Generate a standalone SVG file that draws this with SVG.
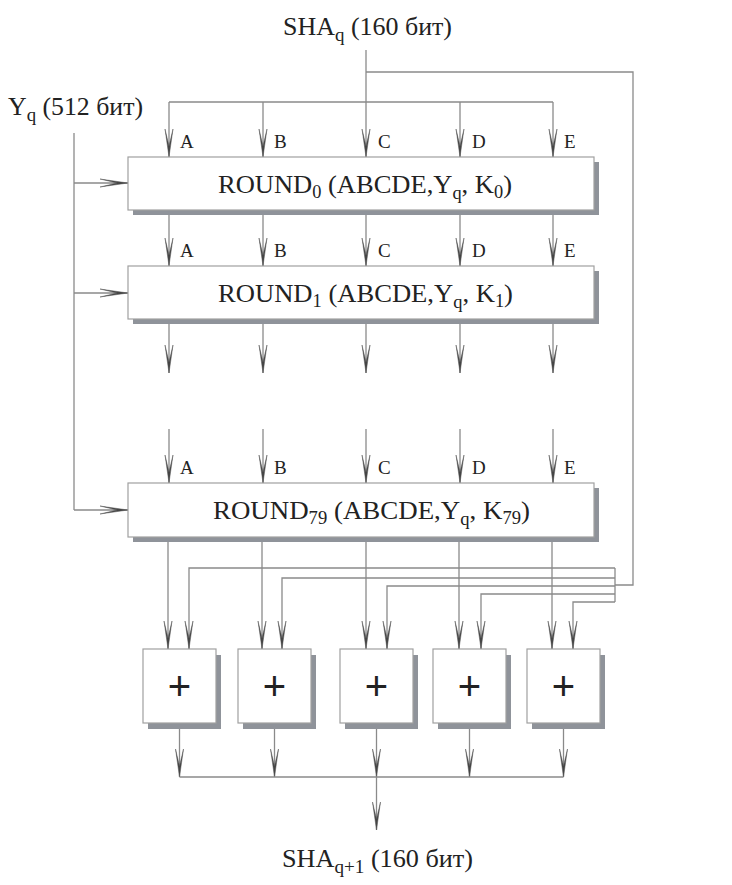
<svg xmlns="http://www.w3.org/2000/svg" width="732" height="885" viewBox="0 0 732 885">
<style>
.ln{fill:none;stroke:#8a8a8a;stroke-width:1.3}
.ar{marker-end:url(#arr)}
.box{fill:#fff;stroke:#a0a0a0;stroke-width:1.2}
.sh{fill:#8f939a}
.t{font-family:"Liberation Serif","Times New Roman",serif;fill:#222}
.big{font-size:26px}
.lbl{font-size:19px}
.plus{font-family:"Liberation Sans",Arial,sans-serif;font-size:40px;fill:#222;text-anchor:middle}
</style>
<defs>
<marker id="arr" markerUnits="userSpaceOnUse" viewBox="-30 -5 31 10" refX="0" refY="0" markerWidth="31" markerHeight="10" orient="auto">
<path d="M0,0 L-28,-4 L-11,0 L-28,4 Z" fill="#444" stroke="#555" stroke-width="0.5"/>
</marker>
</defs>
<rect width="732" height="885" fill="#fff"/>

<g id="connectors">
<path class="ln ar" d="M366,50 V157"/>
<path class="ln" d="M169,102 H553"/>
<path class="ln ar" d="M169,102 V157"/>
<path class="ln ar" d="M263,102 V157"/>
<path class="ln ar" d="M460,102 V157"/>
<path class="ln ar" d="M553,102 V157"/>
<path class="ln" d="M366,72 H633 V585 H615"/>
<path class="ln ar" d="M169,212 V266"/>
<path class="ln ar" d="M263,212 V266"/>
<path class="ln ar" d="M366,212 V266"/>
<path class="ln ar" d="M460,212 V266"/>
<path class="ln ar" d="M553,212 V266"/>
<path class="ln ar" d="M169,321 V373"/>
<path class="ln ar" d="M263,321 V373"/>
<path class="ln ar" d="M366,321 V373"/>
<path class="ln ar" d="M460,321 V373"/>
<path class="ln ar" d="M553,321 V373"/>
<path class="ln ar" d="M169,429 V483"/>
<path class="ln ar" d="M263,429 V483"/>
<path class="ln ar" d="M366,429 V483"/>
<path class="ln ar" d="M460,429 V483"/>
<path class="ln ar" d="M553,429 V483"/>
<path class="ln" d="M74,133 V510"/>
<path class="ln ar" d="M74,183 H128"/>
<path class="ln ar" d="M74,293 H128"/>
<path class="ln ar" d="M74,510 H128"/>
<path class="ln ar" d="M168,540 V649"/>
<path class="ln ar" d="M262,540 V649"/>
<path class="ln ar" d="M366,540 V649"/>
<path class="ln ar" d="M459,540 V649"/>
<path class="ln ar" d="M552,540 V649"/>
<path class="ln" d="M615,568 V602"/>
<path class="ln ar" d="M615,568 H189 V649"/>
<path class="ln ar" d="M615,578 H282 V649"/>
<path class="ln ar" d="M615,586 H387 V649"/>
<path class="ln ar" d="M615,594 H481 V649"/>
<path class="ln ar" d="M615,602 H573 V649"/>
<path class="ln ar" d="M179.5,724 V777"/>
<path class="ln ar" d="M274.5,724 V777"/>
<path class="ln ar" d="M376.5,724 V777"/>
<path class="ln ar" d="M469.5,724 V777"/>
<path class="ln ar" d="M563.5,724 V777"/>
<path class="ln" d="M179.5,777 H563.5"/>
<path class="ln ar" d="M376.5,777 V830"/>
</g>

<g id="sha_in">
<text class="t big" x="283" y="35" textLength="169" lengthAdjust="spacingAndGlyphs">SHA<tspan font-size="19" dy="6">q</tspan><tspan dy="-6"> (160 бит)</tspan></text>
</g>
<g id="yq_in">
<text class="t big" x="8" y="115" textLength="135" lengthAdjust="spacingAndGlyphs">Y<tspan font-size="19" dy="6">q</tspan><tspan dy="-6"> (512 бит)</tspan></text>
</g>

<g id="round0">
<rect class="sh" x="133" y="162" width="466" height="53"/>
<rect class="box" x="128" y="157" width="466" height="53"/>
<text class="t big" x="218" y="193" textLength="294" lengthAdjust="spacingAndGlyphs">ROUND<tspan font-size="18" dy="5">0</tspan><tspan dy="-5"> (ABCDE,Y</tspan><tspan font-size="18" dy="6">q</tspan><tspan dy="-6">, K</tspan><tspan font-size="18" dy="5">0</tspan><tspan dy="-5">)</tspan></text>
<text class="t lbl" x="180" y="148">A</text>
<text class="t lbl" x="274" y="148">B</text>
<text class="t lbl" x="378" y="148">C</text>
<text class="t lbl" x="472" y="148">D</text>
<text class="t lbl" x="564" y="148">E</text>
</g>

<g id="round1">
<rect class="sh" x="133" y="271" width="466" height="53"/>
<rect class="box" x="128" y="266" width="466" height="53"/>
<text class="t big" x="218" y="302" textLength="295" lengthAdjust="spacingAndGlyphs">ROUND<tspan font-size="18" dy="5">1</tspan><tspan dy="-5"> (ABCDE,Y</tspan><tspan font-size="18" dy="6">q</tspan><tspan dy="-6">, K</tspan><tspan font-size="18" dy="5">1</tspan><tspan dy="-5">)</tspan></text>
<text class="t lbl" x="180" y="257">A</text>
<text class="t lbl" x="274" y="257">B</text>
<text class="t lbl" x="378" y="257">C</text>
<text class="t lbl" x="472" y="257">D</text>
<text class="t lbl" x="564" y="257">E</text>
</g>

<g id="round79">
<rect class="sh" x="133" y="488" width="466" height="54"/>
<rect class="box" x="128" y="483" width="466" height="54"/>
<text class="t big" x="213" y="519" textLength="317" lengthAdjust="spacingAndGlyphs">ROUND<tspan font-size="18" dy="5">79</tspan><tspan dy="-5"> (ABCDE,Y</tspan><tspan font-size="18" dy="6">q</tspan><tspan dy="-6">, K</tspan><tspan font-size="18" dy="5">79</tspan><tspan dy="-5">)</tspan></text>
<text class="t lbl" x="180" y="474">A</text>
<text class="t lbl" x="274" y="474">B</text>
<text class="t lbl" x="378" y="474">C</text>
<text class="t lbl" x="472" y="474">D</text>
<text class="t lbl" x="564" y="474">E</text>
</g>

<g id="add1">
<rect class="sh" x="148" y="655" width="73" height="74"/>
<rect class="box" x="143" y="649" width="73" height="74"/>
<text class="plus" x="179.5" y="700">+</text>
</g>
<g id="add2">
<rect class="sh" x="243" y="655" width="73" height="74"/>
<rect class="box" x="238" y="649" width="73" height="74"/>
<text class="plus" x="274.5" y="700">+</text>
</g>
<g id="add3">
<rect class="sh" x="345" y="655" width="73" height="74"/>
<rect class="box" x="340" y="649" width="73" height="74"/>
<text class="plus" x="376.5" y="700">+</text>
</g>
<g id="add4">
<rect class="sh" x="438" y="655" width="73" height="74"/>
<rect class="box" x="433" y="649" width="73" height="74"/>
<text class="plus" x="469.5" y="700">+</text>
</g>
<g id="add5">
<rect class="sh" x="532" y="655" width="73" height="74"/>
<rect class="box" x="527" y="649" width="73" height="74"/>
<text class="plus" x="563.5" y="700">+</text>
</g>

<g id="sha_out">
<text class="t big" x="282" y="867" textLength="191" lengthAdjust="spacingAndGlyphs">SHA<tspan font-size="19" dy="6">q+1</tspan><tspan dy="-6"> (160 бит)</tspan></text>
</g>
</svg>
